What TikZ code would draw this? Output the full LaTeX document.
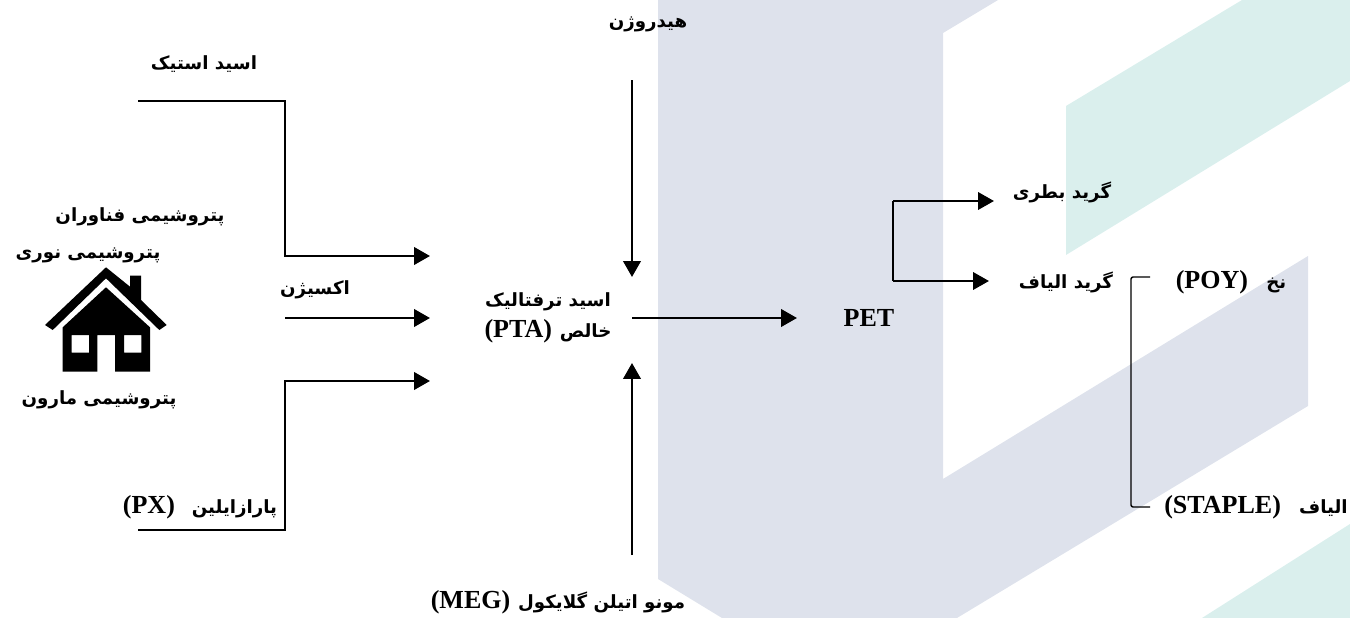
\documentclass[tikz,border=0pt]{standalone}
\usepackage{fontspec}
\setmainfont{Liberation Serif}
\newfontfamily\arabicfont[Script=Arabic,Scale=0.7]{DejaVu Sans}
\TeXXeTstate=1
\usetikzlibrary{arrows.meta, positioning}
\definecolor{bgblue}{HTML}{DEE2EC}
\definecolor{bggreen}{HTML}{DAEFED}
\newcommand{\fa}[1]{{\arabicfont\bfseries\beginR #1\endR}}
\newcommand{\farom}[3][0.7em]{{\beginR{\arabicfont #2}\hspace{#1}\beginL #3\endL\endR}}
\tikzset{
  lab/.style={inner sep=0pt, align=center, font=\fontsize{7.4}{8.9}\selectfont\bfseries},
  flow/.style={line width=0.8pt, -{Triangle[length=4.5pt,width=4.9pt]}},
  branch/.style={line width=0.7pt, -{Triangle[length=4.5pt,width=4.9pt]}},
  thinline/.style={line width=0.4pt, rounded corners=0.6pt}
}

\begin{document}
\begin{tikzpicture}[x=0.01cm,y=-0.01cm]
\useasboundingbox (0,0) rectangle (1350,618);
\fill[bgblue] (658,0) -- (998,0) -- (943,33) -- (943,479) -- (1308,256) -- (1308,406) -- (957,618) -- (722,618) -- (658,579) -- cycle;
\fill[bggreen] (1066,106) -- (1242,0) -- (1350,0) -- (1350,81) -- (1066,255) -- cycle;
\fill[bggreen] (1202,618) -- (1350,524) -- (1350,618) -- cycle;

\fill[even odd rule] (106,287.3) -- (150,327.3) -- (150,371.7) -- (115,371.7) -- (115,335) -- (97.3,335) -- (97.3,371.7) -- (62.7,371.7) -- (62.7,327.3) -- cycle
  (71.7,335) rectangle (89,352.7) (124,335) rectangle (141.3,352.7);
\fill (106,267.3) -- (130,286.7) -- (130,275.7) -- (141,275.7) -- (141,300) -- (166.7,325) -- (159.3,330) -- (106,278.3) -- (52.7,330) -- (45,325) -- cycle;

\node[lab] (acetic) at (204,64) {\fa{اسید استیک}};
\node[lab] (hydrogen) at (648,24) {\fa{هیدروژن}};
\node[lab] (fanavaran) at (140,217) {\fa{پتروشیمی فناوران}};
\node[lab] (noori) at (88,255) {\fa{پتروشیمی نوری}};
\node[lab] (maroon) at (99,400) {\fa{پتروشیمی مارون}};
\node[lab] (oxygen) at (315,290) {\fa{اکسیژن}};
\node[lab] (px) at (200,507) {\farom[0.65em]{پارازایلین}{(PX)}};
\node[lab] (pta) at (548,318) {\fa{اسید ترفتالیک}\\\farom[0.3em]{خالص}{(PTA)}};
\node[lab] (meg) at (558,602) {\farom[0.3em]{مونو اتیلن گلایکول}{(MEG)}};
\node[lab] (pet) at (869,318) {PET};
\node[lab] (bottle) at (1062,192) {\fa{گرید بطری}};
\node[lab] (fibre) at (1066,282) {\fa{گرید الیاف}};
\node[lab] (poy) at (1231,282) {\farom{نخ}{(POY)}};
\node[lab] (staple) at (1256,507) {\farom{الیاف}{(STAPLE)}};

\coordinate (aceticstart) at (138,101);
\coordinate (aceticbend) at (285,256);
\coordinate (aceticend) at (430,256);
\coordinate (oxygenstart) at (285,318);
\coordinate (oxygenend) at (430,318);
\coordinate (pxstart) at (138,530);
\coordinate (pxbend) at (285,381);
\coordinate (pxend) at (430,381);
\coordinate (hydrogenstart) at (632,80);
\coordinate (ptatop) at (632,277);
\coordinate (megstart) at (632,555);
\coordinate (ptabottom) at (632,363);
\coordinate (ptaout) at (632,318);
\coordinate (petin) at (797,318);
\coordinate (splittop) at (893,201);
\coordinate (splitbottom) at (893,281);
\coordinate (bottlein) at (994,201);
\coordinate (fibrein) at (989,281);
\coordinate (bracketleft) at (1131,392);
\coordinate (poyin) at (1150,277);
\coordinate (staplein) at (1150,507);

\draw[flow] (aceticstart) -| (aceticbend) -- (aceticend);
\draw[flow] (oxygenstart) -- (oxygenend);
\draw[flow] (pxstart) -| (pxbend) -- (pxend);
\draw[flow] (hydrogenstart) -- (ptatop);
\draw[flow] (megstart) -- (ptabottom);
\draw[flow] (ptaout) -- (petin);
\draw[branch] (splittop) -- (bottlein);
\draw[branch] (splitbottom) -- (fibrein);
\draw[line width=0.5pt] (splittop) -- (splitbottom);
\draw[thinline] (poyin) -| (bracketleft) |- (staplein);
\end{tikzpicture}
\end{document}
